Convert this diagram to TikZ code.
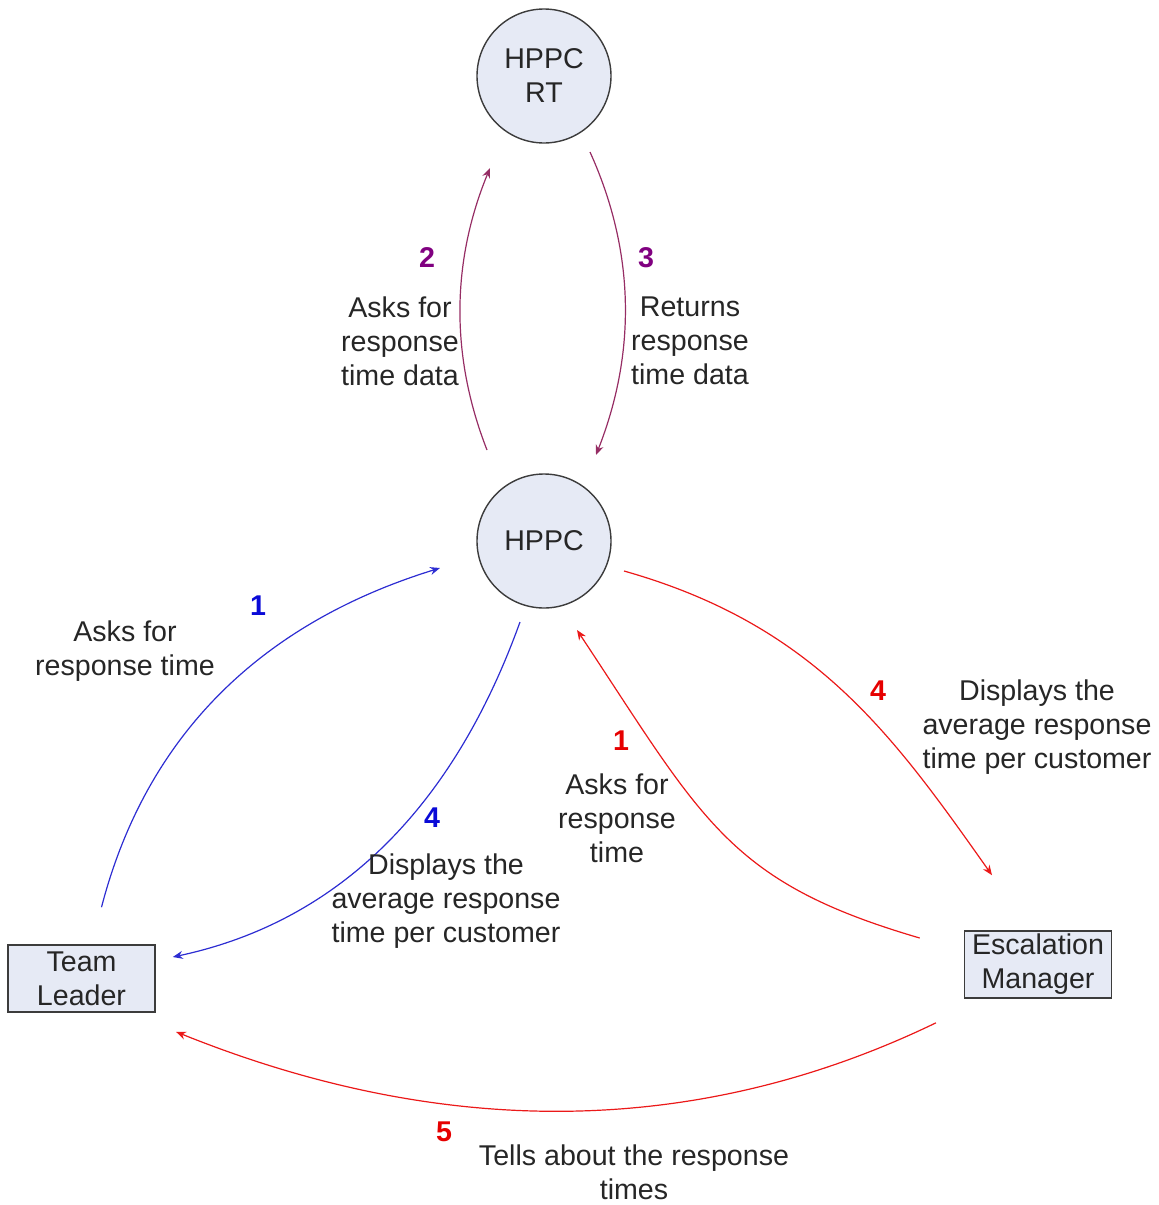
\documentclass[tikz,border=0pt]{standalone}
\usepackage{fontspec}
\setmainfont{Liberation Sans}
\usetikzlibrary{arrows.meta}
\definecolor{nodefill}{RGB}{230,234,245}
\definecolor{nodeedge}{RGB}{60,60,60}
\definecolor{flowblue}{RGB}{45,45,210}
\definecolor{numblue}{RGB}{10,10,215}
\definecolor{flowpurple}{RGB}{150,45,100}
\definecolor{numpurple}{RGB}{128,0,128}
\definecolor{flowred}{RGB}{235,25,25}
\definecolor{numred}{RGB}{230,0,0}
\begin{document}
\begin{tikzpicture}[x=0.5pt,y=-0.5pt,
  txt/.style={font=\fontsize{14.3}{17}\selectfont, align=center, text=black!85, inner sep=0pt},
  num/.style={font=\fontsize{14.3}{17}\selectfont\bfseries, inner sep=0pt},
  process/.style={circle, draw=nodeedge, fill=nodefill, line width=0.7pt, minimum size=67pt,
    font=\fontsize{14.3}{17}\selectfont, align=center, text=black!85, inner sep=0pt},
  entity/.style={rectangle, draw=nodeedge, fill=nodefill, line width=0.8pt,
    minimum width=73.5pt, minimum height=33.5pt,
    font=\fontsize{14.3}{17}\selectfont, align=center, text=black!85, inner sep=0pt},
  flow/.style={line width=0.6pt, -{Stealth[length=5pt,width=4pt]}},
]
\useasboundingbox (0,0) rectangle (1159,1205);

% processes and external entities
\node[process] (rt) at (544,76) {HPPC\\RT};
\node[process] (hppc) at (544,541) {HPPC};
\node[entity] (tl) at (81.5,978.5) {Team\\Leader};
\node[entity] (em) at (1038,964.5) {Escalation\\Manager};

% data flows between HPPC and HPPC RT
\draw[flow, draw=flowpurple]
  ([shift={(-57,-91)}]hppc.center) .. controls (450.3,356) and (451.3,262) .. ([shift={(-54,92)}]rt.center);
\draw[flow, draw=flowpurple]
  ([shift={(46,76)}]rt.center) .. controls (634.7,250.7) and (636.7,351.7) .. ([shift={(52,-86)}]hppc.center);

% Team Leader flows
\draw[flow, draw=flowblue]
  ([shift={(20,-37)}]tl.north) .. controls (145.7,737.3) and (258.7,624) .. ([shift={(-104,27)}]hppc.center);
\draw[flow, draw=flowblue]
  ([shift={(-24,81)}]hppc.center) .. controls (452,810.7) and (336,922.3) .. ([shift={(17,-21.5)}]tl.east);

% Escalation Manager flows
\draw[flow, draw=flowred]
  ([shift={(80,30)}]hppc.center) .. controls (815,625) and (893,735) .. ([shift={(-46,-55)}]em.north);
\draw[flow, draw=flowred]
  ([shift={(-44,-26.5)}]em.west) .. controls (728,882) and (703.5,821) .. ([shift={(33,89)}]hppc.center);
\draw[flow, draw=flowred]
  ([shift={(-102,24)}]em.south) .. controls (698.7,1137.3) and (445.3,1140.3) .. ([shift={(94.5,19)}]tl.south);

% flow numbers
\node[num, text=numpurple] (n2) at (427,258) {2};
\node[num, text=numpurple] (n3) at (646,258) {3};
\node[num, text=numblue] (nb1) at (258,606) {1};
\node[num, text=numblue] (nb4) at (432,818) {4};
\node[num, text=numred] (nr1) at (621,741) {1};
\node[num, text=numred] (nr4) at (878,691) {4};
\node[num, text=numred] (nr5) at (444,1132) {5};

% flow labels
\node[txt] (l2) at (400,341) {Asks for\\response\\time data};
\node[txt] (l3) at (690,341) {Returns\\response\\time data};
\node[txt] (lb1) at (125,651) {Asks for\\response time};
\node[txt] (lb4) at (446,901) {Displays the\\average response\\time per customer};
\node[txt] (lr1) at (617,818) {Asks for\\response\\time};
\node[txt] (lr4) at (1037,727) {Displays the\\average response\\time per customer};
\node[txt] (lr5) at (634,1172) {Tells about the response\\times};
\end{tikzpicture}
\end{document}
